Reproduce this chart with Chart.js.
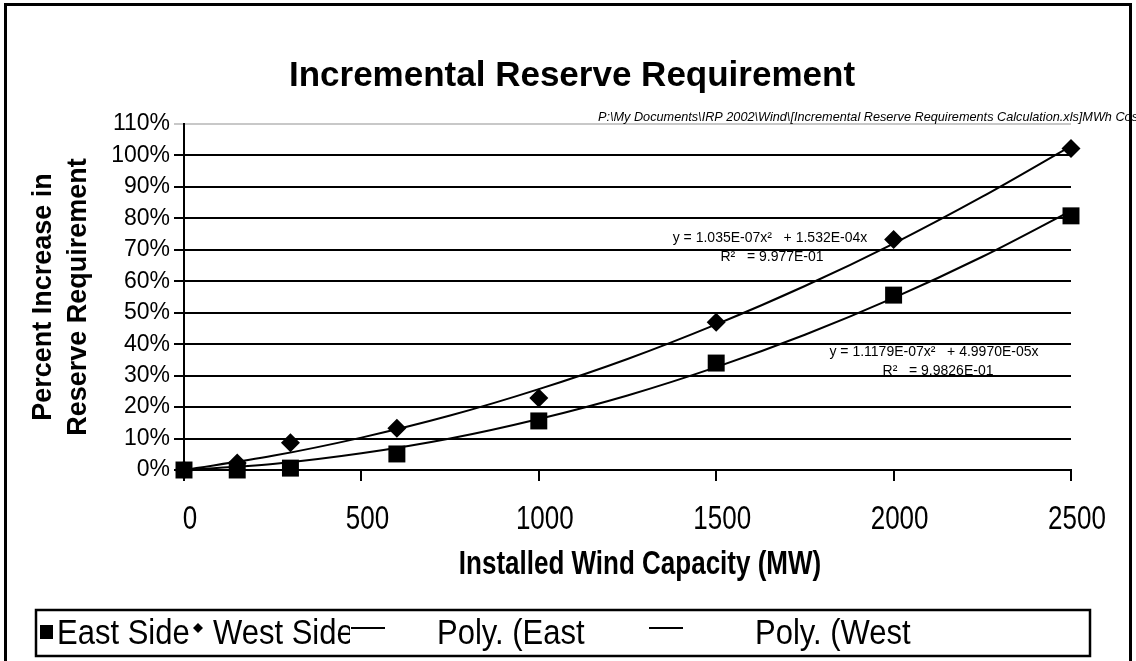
<!DOCTYPE html>
<html><head><meta charset="utf-8">
<script src="https://cdn.jsdelivr.net/npm/chart.js@4"></script>
<style>html,body{margin:0;padding:0;background:#fff;overflow:hidden}canvas{display:block}</style>
</head><body>
<canvas id="c" width="1136" height="661"></canvas>
<script>
// ---- data ----
const chartTitle = 'Incremental Reserve Requirement';
const filePath = 'P:\\My Documents\\IRP 2002\\Wind\\[Incremental Reserve Requirements Calculation.xls]MWh Cost';
const xAxisTitle = 'Installed Wind Capacity (MW)';
const yAxisTitle = ['Percent Increase in', 'Reserve Requirement'];
const capacityMW = [0, 150, 300, 600, 1000, 1500, 2000, 2500];
const eastSide = [0, 0, 0.006, 0.051, 0.156, 0.34, 0.556, 0.808];
const westSide = [0, 0.022, 0.087, 0.133, 0.229, 0.47, 0.733, 1.022];
const trendMW = [0, 250, 500, 750, 1000, 1250, 1500, 1750, 2000, 2250, 2500];
const polyEast = [0, 0.019, 0.053, 0.100, 0.162, 0.237, 0.327, 0.430, 0.547, 0.678, 0.824];
const polyWest = [0, 0.045, 0.103, 0.173, 0.257, 0.353, 0.463, 0.585, 0.720, 0.869, 1.030];
const xTickValues = [0, 500, 1000, 1500, 2000, 2500];
const yTickLabels = ['0%','10%','20%','30%','40%','50%','60%','70%','80%','90%','100%','110%'];
const seriesNames = ['East Side', 'West Side', 'Poly. (East Side)', 'Poly. (West Side)'];
const eqWest = ['y = 1.035E-07x\u00B2   + 1.532E-04x', 'R\u00B2   = 9.977E-01'];
const eqEast = ['y = 1.1179E-07x\u00B2   + 4.9970E-05x', 'R\u00B2   = 9.9826E-01'];

const FONT = '"Liberation Sans", Arial, Helvetica, sans-serif';
const pts = (xs, ys) => xs.map((x, i) => ({x, y: ys[i]}));

const decor = {
  id: 'decor',
  beforeDraw(chart) {
    const c = chart.ctx;
    c.save(); c.fillStyle = '#fff'; c.fillRect(0, 0, chart.width, chart.height); c.restore();
  },
  afterDraw(chart) {
    const c = chart.ctx;
    const xs = chart.scales.x;
    c.save();
    c.fillStyle = '#000';
    // title
    c.font = 'bold 35px ' + FONT;
    c.textAlign = 'center'; c.textBaseline = 'middle';
    c.fillText(chartTitle, 572, 76);
    // file path
    c.font = 'italic 12.7px ' + FONT;
    c.textAlign = 'left'; c.textBaseline = 'alphabetic';
    c.fillText(filePath, 598, 121);
    function sText(txt, x, y, font, sy, align) {
      c.save(); c.font = font; c.textAlign = align; c.textBaseline = 'middle';
      c.translate(x, y); c.scale(1, sy); c.fillText(txt, 0, 0); c.restore();
    }
    // x tick labels
    xs.ticks.forEach(t => sText(String(t.value), xs.getPixelForValue(t.value) + 6, 520, '26px ' + FONT, 1.3, 'center'));
    // x title
    sText(xAxisTitle, 640, 565, 'bold 26px ' + FONT, 1.25, 'center');
    // trendline equations
    c.font = '14px ' + FONT; c.textAlign = 'center'; c.textBaseline = 'middle';
    c.fillText(eqWest[0], 770, 238); c.fillText(eqWest[1], 772, 257);
    c.fillText(eqEast[0], 934, 352); c.fillText(eqEast[1], 938, 371);
    // legend
    const lg = {x: 36, y: 610, w: 1054, h: 46};
    c.lineWidth = 2.5; c.strokeStyle = '#000';
    c.strokeRect(lg.x, lg.y, lg.w, lg.h);
    const slots = [
      {sym: 46, txt: 57, end: 196},
      {sym: 198, txt: 213, end: 352},
      {sym: 368, txt: 437, end: 592},
      {sym: 666, txt: 755, end: 918}
    ];
    const cy = lg.y + lg.h / 2;
    chart.data.datasets.forEach((ds, i) => {
      const s = slots[i];
      c.fillStyle = '#000'; c.strokeStyle = '#000';
      if (ds.showLine) {
        c.lineWidth = 2; c.beginPath(); c.moveTo(s.sym - 17, cy - 5); c.lineTo(s.sym + 17, cy - 5); c.stroke();
      } else if (ds.pointStyle === 'rect') {
        c.fillRect(s.sym - 6, cy - 8, 13, 14);
      } else {
        c.beginPath(); c.moveTo(s.sym, cy - 10); c.lineTo(s.sym + 5, cy - 5); c.lineTo(s.sym, cy); c.lineTo(s.sym - 5, cy - 5); c.closePath(); c.fill();
      }
      c.save();
      c.beginPath(); c.rect(s.txt - 2, lg.y, s.end - s.txt, lg.h); c.clip();
      sText(ds.label, s.txt, cy + 1, '31px ' + FONT, 1.12, 'left');
      c.restore();
    });
    // outer frame
    c.lineWidth = 3; c.strokeStyle = '#000';
    c.strokeRect(5.5, 4.5, 1125, 700);
    c.restore();
  }
};

new Chart(document.getElementById('c'), {
  type: 'scatter',
  data: {
    datasets: [
      {label: seriesNames[0], data: pts(capacityMW, eastSide), pointStyle: 'rect', pointRadius: 12, pointHoverRadius: 12,
       backgroundColor: '#000', borderColor: '#000', borderWidth: 0, showLine: false, clip: false},
      {label: seriesNames[1], data: pts(capacityMW, westSide), pointStyle: 'rectRot', pointRadius: 9.5, pointHoverRadius: 9.5,
       backgroundColor: '#000', borderColor: '#000', borderWidth: 0, showLine: false, clip: false},
      {label: seriesNames[2], data: pts(trendMW, polyEast), showLine: true, pointRadius: 0, borderColor: '#000', borderWidth: 2,
       cubicInterpolationMode: 'monotone', fill: false},
      {label: seriesNames[3], data: pts(trendMW, polyWest), showLine: true, pointRadius: 0, borderColor: '#000', borderWidth: 2,
       cubicInterpolationMode: 'monotone', fill: false}
    ]
  },
  options: {
    responsive: false, animation: false, devicePixelRatio: 1,
    layout: {padding: {left: 0, right: 65, top: 124, bottom: 0}},
    plugins: {legend: {display: false}, title: {display: false}, tooltip: {enabled: false}},
    scales: {
      x: {
        type: 'linear', min: 0, max: 2500,
        afterBuildTicks: s => { s.ticks = xTickValues.map(v => ({value: v})); },
        ticks: {display: false},
        grid: {drawOnChartArea: false, drawTicks: true, tickLength: 11, color: '#000', lineWidth: 2},
        border: {display: true, color: '#000', width: 2},
        afterFit: s => { s.height = 191; }
      },
      y: {
        min: 0, max: 1.1,
        afterBuildTicks: s => { s.ticks = yTickLabels.map((_, i) => ({value: i / 10})); },
        ticks: {color: '#000', font: {family: FONT, size: 23}, padding: 4, autoSkip: false,
                callback: (v, i) => yTickLabels[i]},
        grid: {color: ctx => (ctx.tick && ctx.tick.value > 1.05) ? '#c8c8c8' : '#000', lineWidth: 2, tickLength: 10},
        border: {display: true, color: '#000', width: 2},
        title: {display: true, text: yAxisTitle, color: '#000', font: {family: FONT, size: 27, weight: 'bold', lineHeight: 1.3},
                padding: {top: 26, bottom: 0}},
        afterFit: s => { s.width = 184; }
      }
    }
  },
  plugins: [decor]
});
</script>
</body></html>
